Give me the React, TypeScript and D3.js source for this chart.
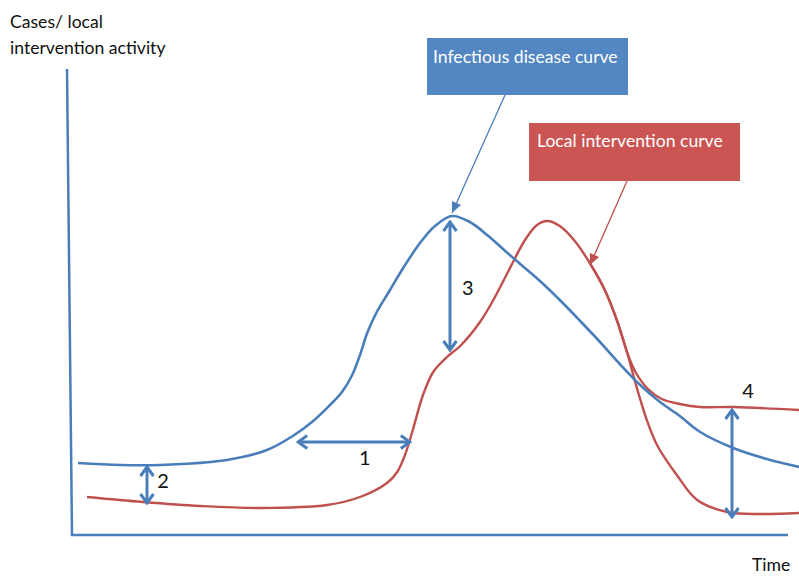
import React from "react";
import * as d3 from "d3";

// Conceptual curves, in arbitrary time / activity units
const blueCurve: [number, number][] = [
  [1, 14.4], [8, 14], [14.7, 14], [25.8, 15], [32.5, 17], [36.8, 19.8], [40.2, 22.8],
  [43, 26], [45, 28.6], [46.7, 32], [48, 36], [49.2, 40.4], [50.8, 44.6], [53, 49],
  [55.2, 53.4], [58, 58.4], [60.5, 61.8], [63.3, 63.8], [66.3, 62.6], [69.2, 60],
  [72.2, 56.8], [74.7, 54.2], [78, 50.8], [81.3, 47], [84.7, 42.8], [88, 38.6],
  [91.3, 34.2], [94.7, 30], [98, 26.6], [101.3, 23.8], [104.7, 20.6], [110.2, 17.4],
  [115.8, 15.2], [121.2, 13.6],
];

const redCurve: [number, number][] = [
  [2.5, 7.6], [11.8, 6.6], [21.3, 5.8], [31.3, 5.4], [42.5, 6], [48, 7.6],
  [52.5, 10.4], [54.2, 12.6], [55.5, 16], [56.8, 21], [58.5, 28], [60.2, 32.6],
  [62.5, 35.6], [64.7, 37.8], [68, 42.6], [70.5, 47.6], [73, 53.4], [75.5, 59],
  [77.5, 62], [79.2, 62.8], [81.3, 61.8], [83.8, 58.8], [86.3, 54.4], [88.8, 49],
  [90.8, 43], [92.5, 36.6], [94, 32.4], [96, 29.2], [98.3, 27.2], [101.3, 26.2],
  [104.7, 25.6], [110.2, 25.6], [121.2, 25],
];

const redLowerBranch: [number, number][] = [
  [86.3, 54.4], [88.8, 49], [90.8, 43], [92.5, 36.6], [94, 30], [95.8, 23],
  [97.5, 18], [100.8, 12], [104.2, 7], [109.2, 4.6], [114.7, 4.2], [121.2, 4.4],
];

// Double-headed gap arrows: [x1, y1, x2, y2]
const gapArrowIds = ["1", "2", "3", "4"];
const gapArrowCoords: [number, number, number, number][] = [
  [37.7, 18.6, 56.3, 18.6],
  [12.5, 13.6, 12.5, 6.4],
  [63, 62.6, 63, 37],
  [110, 25, 110, 3.6],
];
// label anchor positions [x, baseline y]
const gapLabelPos: [number, number][] = [
  [48.8, 14],
  [14.2, 9.4],
  [65, 48],
  [111.7, 27.4],
];

const yAxisLabel = ["Cases/ local", "intervention activity"];
const xAxisLabel = "Time";
const legendLabels = ["Infectious disease curve", "Local intervention curve"];

const W = 799;
const H = 576;
const BLUE = "#4A7EBB";
const RED = "#C0504D";
const FONT = "Lato, 'Open Sans', sans-serif";

export default function App() {
  const x = d3.scaleLinear().domain([0, 120]).range([72, 792]);
  const y = d3.scaleLinear().domain([0, 100]).range([535, 35]);
  const line = d3
    .line<[number, number]>()
    .x((d) => x(d[0]))
    .y((d) => y(d[1]))
    .curve(d3.curveCatmullRom.alpha(0.5));

  const labelAnchors = ["middle", "start", "start", "start"];

  return (
    <svg
      width={W}
      height={H}
      style={{ position: "absolute", left: 0, top: 0, background: "#fff" }}
      fontFamily={FONT}
    >
      <defs>
        <marker
          id="chev"
          markerUnits="userSpaceOnUse"
          viewBox="-12 -8 14 16"
          markerWidth={14}
          markerHeight={16}
          refX={0}
          refY={0}
          orient="auto-start-reverse"
        >
          <path d="M -9 -6.5 L 0 0 L -9 6.5" fill="none" stroke={BLUE} strokeWidth={3} strokeLinejoin="miter" />
        </marker>
        <marker
          id="tipBlue"
          markerUnits="userSpaceOnUse"
          viewBox="-12 -6 13 12"
          markerWidth={13}
          markerHeight={12}
          refX={0}
          refY={0}
          orient="auto"
        >
          <path d="M -11 -5 L 0 0 L -11 5 Z" fill={BLUE} />
        </marker>
        <marker
          id="tipRed"
          markerUnits="userSpaceOnUse"
          viewBox="-12 -6 13 12"
          markerWidth={13}
          markerHeight={12}
          refX={0}
          refY={0}
          orient="auto"
        >
          <path d="M -11 -5 L 0 0 L -11 5 Z" fill={RED} />
        </marker>
      </defs>

      {/* axes */}
      <line x1={67} y1={69} x2={72} y2={536} stroke={BLUE} strokeWidth={2.5} />
      <line x1={71} y1={535} x2={788} y2={535} stroke={BLUE} strokeWidth={2.5} />

      {/* curves */}
      <path d={line(redLowerBranch) ?? ""} fill="none" stroke={RED} strokeWidth={2.4} />
      <path d={line(redCurve) ?? ""} fill="none" stroke={RED} strokeWidth={2.4} />
      <path d={line(blueCurve) ?? ""} fill="none" stroke={BLUE} strokeWidth={2.6} />

      {/* gap arrows */}
      {gapArrowCoords.map((c, i) => (
        <g key={gapArrowIds[i]}>
          <line
            x1={x(c[0])}
            y1={y(c[1])}
            x2={x(c[2])}
            y2={y(c[3])}
            stroke={BLUE}
            strokeWidth={3}
            markerStart="url(#chev)"
            markerEnd="url(#chev)"
          />
          <text
            x={x(gapLabelPos[i][0])}
            y={y(gapLabelPos[i][1])}
            fontSize={20}
            fill="#111"
            textAnchor={labelAnchors[i]}
          >
            {gapArrowIds[i]}
          </text>
        </g>
      ))}

      {/* legend boxes */}
      <rect x={427} y={38} width={201} height={57} fill="#5387C4" />
      <text x={433} y={63} fontSize={17.6} fill="#fff">
        {legendLabels[0]}
      </text>
      <line x1={505} y1={95} x2={452} y2={213} stroke={BLUE} strokeWidth={1.3} markerEnd="url(#tipBlue)" />

      <rect x={529} y={123} width={211} height={58} fill="#CB5553" />
      <text x={537} y={147} fontSize={17.6} fill="#fff">
        {legendLabels[1]}
      </text>
      <line x1={627} y1={181} x2={590} y2={265} stroke={RED} strokeWidth={1.3} markerEnd="url(#tipRed)" />

      {/* axis labels */}
      <text x={10} y={28} fontSize={17.6} fill="#111">
        {yAxisLabel[0]}
      </text>
      <text x={10} y={54} fontSize={17.6} fill="#111">
        {yAxisLabel[1]}
      </text>
      <text x={752} y={571} fontSize={17.6} fill="#111">
        {xAxisLabel}
      </text>
    </svg>
  );
}
